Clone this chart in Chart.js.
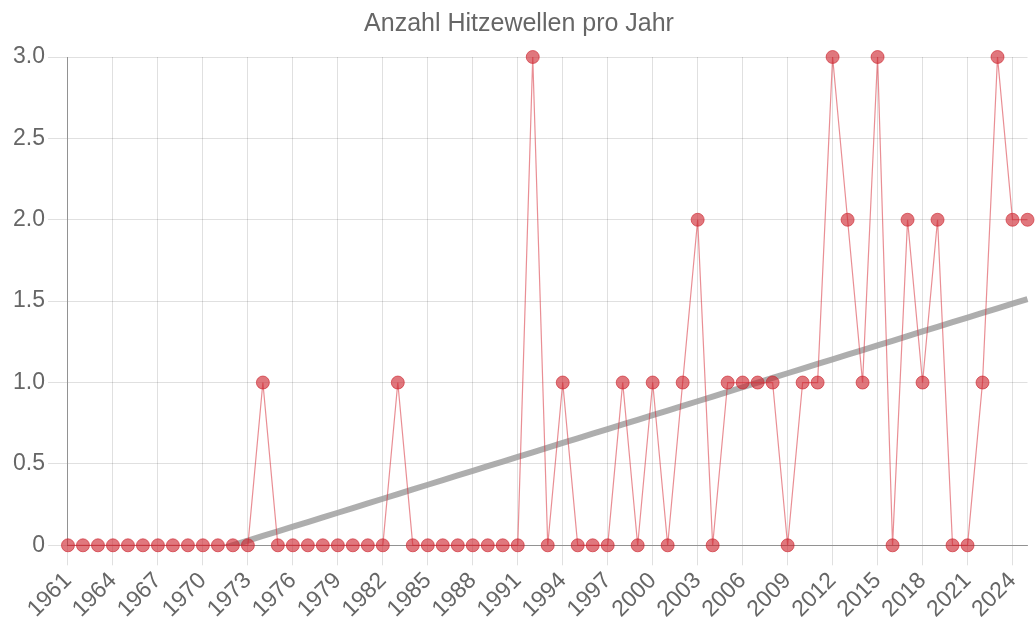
<!DOCTYPE html>
<html>
<head>
<meta charset="utf-8">
<script src="https://cdn.jsdelivr.net/npm/chart.js@4.4.0/dist/chart.umd.min.js"></script>
<style>
html,body{margin:0;padding:0;background:#fff;}
#wrap{width:1035px;height:619px;}
</style>
</head>
<body>
<div id="wrap"><canvas id="c" width="1035" height="619"></canvas></div>
<script>
const years = [1961,1962,1963,1964,1965,1966,1967,1968,1969,1970,1971,1972,1973,1974,1975,1976,1977,1978,1979,1980,1981,1982,1983,1984,1985,1986,1987,1988,1989,1990,1991,1992,1993,1994,1995,1996,1997,1998,1999,2000,2001,2002,2003,2004,2005,2006,2007,2008,2009,2010,2011,2012,2013,2014,2015,2016,2017,2018,2019,2020,2021,2022,2023,2024,2025];
const heatwaves = [0,0,0,0,0,0,0,0,0,0,0,0,0,1,0,0,0,0,0,0,0,0,1,0,0,0,0,0,0,0,0,3,0,1,0,0,0,1,0,1,0,1,2,0,1,1,1,1,0,1,1,3,2,1,3,0,2,1,2,0,0,1,3,2,2];
const trend = [-0.313,-0.285,-0.256,-0.228,-0.199,-0.171,-0.142,-0.114,-0.085,-0.056,-0.028,0.001,0.029,0.058,0.086,0.115,0.143,0.172,0.200,0.229,0.257,0.286,0.315,0.343,0.372,0.400,0.429,0.457,0.486,0.514,0.543,0.571,0.600,0.629,0.657,0.686,0.714,0.743,0.771,0.800,0.828,0.857,0.885,0.914,0.942,0.971,0.999,1.028,1.057,1.085,1.114,1.142,1.171,1.199,1.228,1.256,1.285,1.314,1.342,1.371,1.399,1.428,1.456,1.485,1.513];
const titleText = 'Anzahl Hitzewellen pro Jahr';

new Chart(document.getElementById('c'), {
  type: 'line',
  data: {
    labels: years.map(String),
    datasets: [
      {
        label: 'Hitzewellen',
        data: heatwaves,
        borderColor: 'rgba(215,50,60,0.55)',
        borderWidth: 1.2,
        backgroundColor: 'rgba(205,35,45,0.62)',
        pointBackgroundColor: 'rgba(205,35,45,0.62)',
        pointBorderColor: 'rgba(205,35,45,0.62)',
        pointBorderWidth: 1,
        pointRadius: 6.5,
        tension: 0,
        fill: false,
        clip: false
      },
      {
        label: 'Trend',
        data: trend,
        borderColor: 'rgba(160,160,160,0.85)',
        borderWidth: 6,
        pointRadius: 0,
        tension: 0,
        fill: false
      }
    ]
  },
  options: {
    responsive: false,
    animation: false,
    devicePixelRatio: 1,
    layout: { padding: { right: 7, top: 0, left: 10, bottom: -6 } },
    plugins: {
      legend: { display: false },
      tooltip: { enabled: false },
      title: {
        display: true,
        text: titleText,
        color: '#666',
        font: { family: 'Liberation Sans, Arial, sans-serif', size: 25, weight: 'normal' },
        padding: { top: 9, bottom: 18 }
      }
    },
    scales: {
      x: {
        offset: false,
        grid: { color: 'rgba(0,0,0,0.12)', tickLength: 20, drawTicks: true },
        border: { color: 'rgba(0,0,0,0.35)' },
        ticks: {
          color: '#666',
          font: { family: 'Liberation Sans, Arial, sans-serif', size: 23 },
          maxRotation: 45, minRotation: 45,
          autoSkip: true, padding: 2
        }
      },
      y: {
        min: 0, max: 3,
        grid: { color: 'rgba(0,0,0,0.12)', tickLength: 20 },
        border: { color: 'rgba(0,0,0,0.35)' },
        ticks: {
          stepSize: 0.5,
          color: '#666',
          font: { family: 'Liberation Sans, Arial, sans-serif', size: 23 },
          padding: 3
        }
      }
    }
  }
});
</script>
</body>
</html>
